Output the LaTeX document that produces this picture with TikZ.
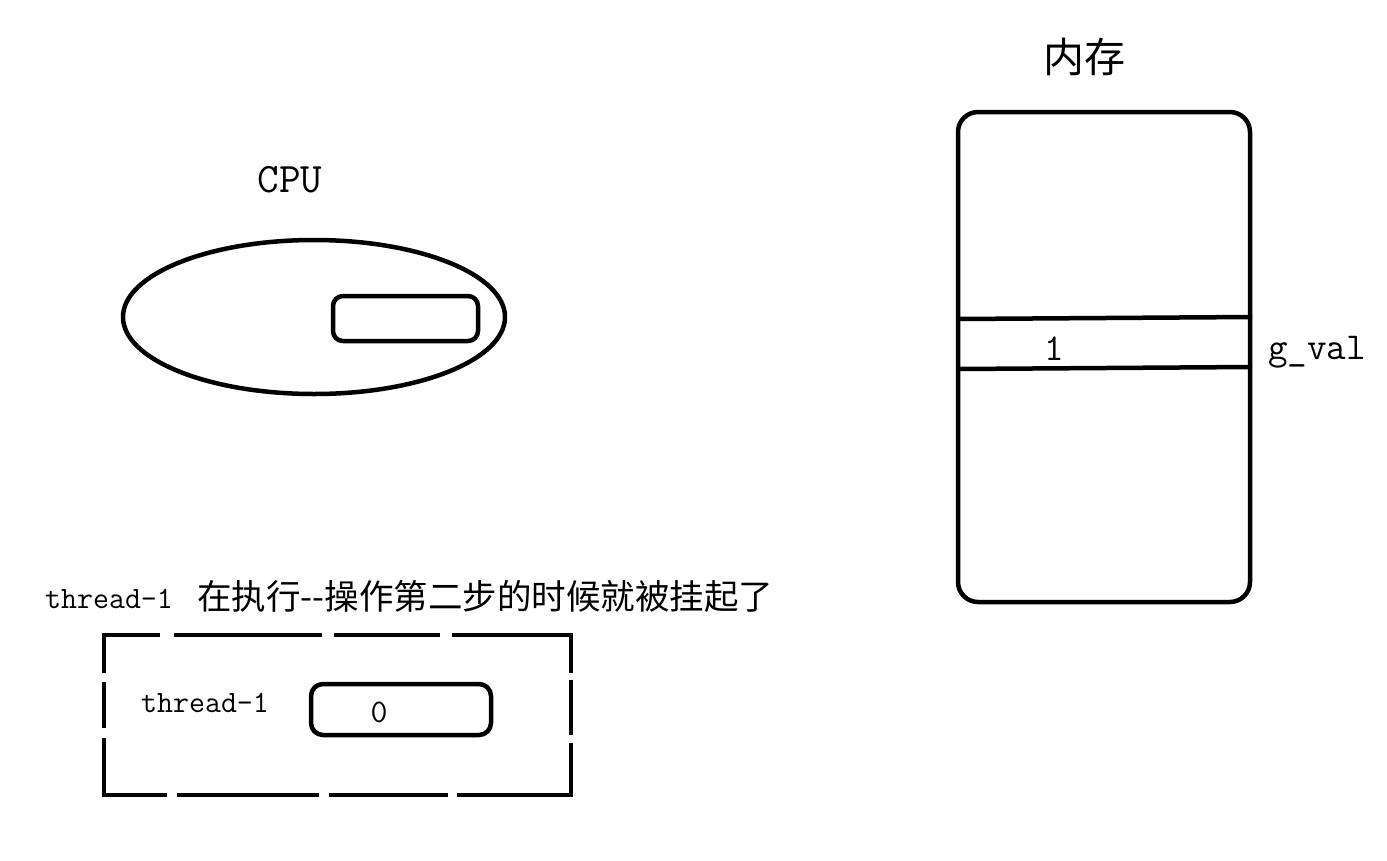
\documentclass[tikz,border=0pt]{standalone}
\usepackage{fontspec}
\newfontfamily\cjk{Noto Sans CJK SC}
\usetikzlibrary{shapes.geometric}
\tikzset{
  thick line/.style={line width=4.5pt, line join=round},
  dashseg/.style={line width=4.5pt, line cap=butt},
  mono/.style={font=\ttfamily\fontsize{31}{31}\selectfont, inner sep=0pt},
}
\begin{document}
\begin{tikzpicture}[x=1pt, y=-1pt]
\useasboundingbox (0,0) rectangle (1387,860);
\fill[white] (0,0) rectangle (1387,860);

% CPU
\node[font=\ttfamily\fontsize{42}{42}\selectfont, inner sep=0pt, anchor=base] (cpulabel) at (290,192) {CPU};
\node[ellipse, draw, thick line, minimum width=382pt, minimum height=154pt, inner sep=0pt] (cpu) at (314,317) {};
\node[draw, thick line, rounded corners=10pt, minimum width=145pt, minimum height=45pt, inner sep=0pt] (reg) at (405.5,318.5) {};

% Memory
\node[font=\cjk\fontsize{41}{41}\selectfont, inner sep=0pt] (memlabel) at (1084,57) {内存};
\node[draw, thick line, rounded corners=20pt, minimum width=292pt, minimum height=490pt, inner sep=0pt] (mem) at (1104,357) {};
\coordinate (l1a) at (958,319);
\coordinate (l1b) at (1252,317);
\coordinate (l2a) at (958,369);
\coordinate (l2b) at (1252,367);
\draw[thick line] (l1a) -- (l1b);
\draw[thick line] (l2a) -- (l2b);
\node[font=\ttfamily\fontsize{38}{38}\selectfont, inner sep=0pt, anchor=base] (one) at (1054,360) {1};
\node[font=\ttfamily\fontsize{38}{38}\selectfont, inner sep=0pt, anchor=base west] (gval) at (1268,359) {g\_val};

% Heading
\node[mono, anchor=base west] (head1) at (45,608) {thread-1};
\node[font=\cjk\fontsize{34.5}{34.5}\selectfont, inner sep=0pt, anchor=base west] (head2) at (197,609) {在执行-{}-操作第二步的时候就被挂起了};

% Dashed thread box (drawn as explicit dashes)
\draw[dashseg] (104,635) -- (160,635);
\draw[dashseg] (174,635) -- (322,635);
\draw[dashseg] (334,635) -- (440,635);
\draw[dashseg] (452,635) -- (573,635);
\draw[dashseg] (102,795) -- (167,795);
\draw[dashseg] (177,795) -- (319,795);
\draw[dashseg] (329,795) -- (448,795);
\draw[dashseg] (457,795) -- (573,795);
\draw[dashseg] (104,633) -- (104,673);
\draw[dashseg] (104,682) -- (104,728);
\draw[dashseg] (104,738) -- (104,797);
\draw[dashseg] (571,633) -- (571,673);
\draw[dashseg] (571,680) -- (571,735);
\draw[dashseg] (571,743) -- (571,797);

\node[mono, anchor=base west] (tlabel) at (141,712) {thread-1};
\node[draw, thick line, rounded corners=12pt, minimum width=180pt, minimum height=51pt, inner sep=0pt] (treg) at (401,709.5) {};
\node[font=\ttfamily\fontsize{33}{33}\selectfont, inner sep=0pt, anchor=base] (zero) at (379,722) {0};
\end{tikzpicture}
\end{document}
